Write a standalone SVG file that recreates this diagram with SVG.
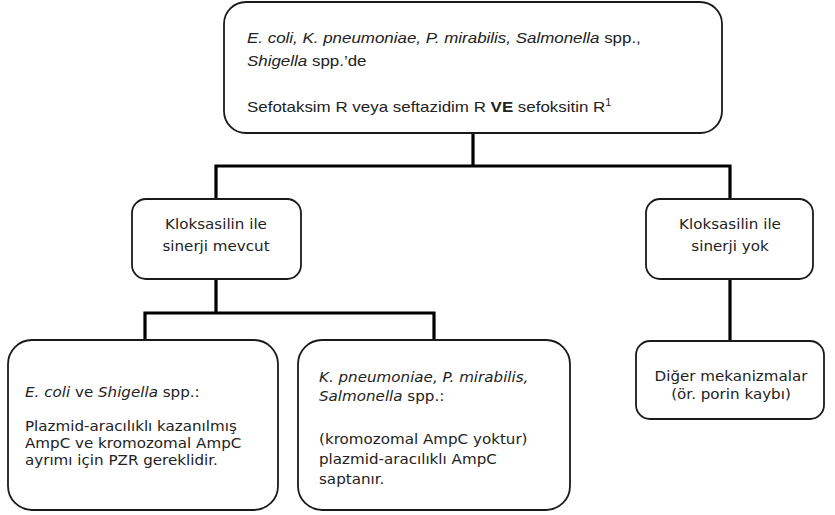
<svg xmlns="http://www.w3.org/2000/svg" width="835" height="515" viewBox="0 0 835 515">
<style>
.box{fill:#fff;stroke:#1a1a1a;stroke-width:1.8}
.con{fill:none;stroke:#000;stroke-width:3.2}
.t1{font-family:"Liberation Sans",Arial,sans-serif;font-size:15.4px;fill:#222}
.t2{font-family:"DejaVu Sans",Verdana,sans-serif;font-size:13.5px;fill:#222}
.c{text-anchor:middle}
.i{font-style:italic}
</style>
<rect width="835" height="515" fill="#fff"/>
<g id="connectors">
<path class="con" d="M473 133V166M216 199V166H730V199"/>
<path class="con" d="M216 279V313M145 340V313H434V340"/>
<path class="con" d="M730 279V341"/>
</g>
<g id="top">
<rect class="box" x="224" y="2" width="498" height="131" rx="22"/>
<text class="t1" transform="translate(247 43) scale(1.1 1)"><tspan class="i">E. coli, K. pneumoniae, P. mirabilis, Salmonella</tspan> spp.,</text>
<text class="t1" transform="translate(247 66) scale(1.1 1)"><tspan class="i">Shigella</tspan> spp.’de</text>
<text class="t1" transform="translate(247 112) scale(1.1 1)">Sefotaksim R veya seftazidim R <tspan font-weight="bold">VE</tspan> sefoksitin R<tspan font-size="10" dy="-6">1</tspan></text>
</g>
<g id="synergy-yes">
<rect class="box" x="132" y="199" width="169" height="80" rx="14"/>
<text class="t2 c" transform="translate(216 229) scale(1.12 1)">Kloksasilin ile</text>
<text class="t2 c" transform="translate(216 251) scale(1.12 1)">sinerji mevcut</text>
</g>
<g id="synergy-no">
<rect class="box" x="646" y="199" width="167" height="80" rx="14"/>
<text class="t2 c" transform="translate(730 229) scale(1.12 1)">Kloksasilin ile</text>
<text class="t2 c" transform="translate(730 251) scale(1.12 1)">sinerji yok</text>
</g>
<g id="ecoli">
<rect class="box" x="8" y="340" width="270" height="170" rx="24"/>
<text class="t2" transform="translate(25 397) scale(1.12 1)"><tspan class="i">E. coli</tspan> ve <tspan class="i">Shigella</tspan> spp.:</text>
<text class="t2" transform="translate(25 431) scale(1.12 1)">Plazmid-aracılıklı kazanılmış</text>
<text class="t2" transform="translate(25 448) scale(1.12 1)">AmpC ve kromozomal AmpC</text>
<text class="t2" transform="translate(25 465) scale(1.12 1)">ayrımı için PZR gereklidir.</text>
</g>
<g id="kpneumoniae">
<rect class="box" x="298" y="340" width="272" height="170" rx="24"/>
<text class="t2" transform="translate(319 382) scale(1.12 1)"><tspan class="i">K. pneumoniae, P. mirabilis,</tspan></text>
<text class="t2" transform="translate(319 401) scale(1.12 1)"><tspan class="i">Salmonella</tspan> spp.:</text>
<text class="t2" transform="translate(319 444) scale(1.12 1)">(kromozomal AmpC yoktur)</text>
<text class="t2" transform="translate(319 464) scale(1.12 1)">plazmid-aracılıklı AmpC</text>
<text class="t2" transform="translate(319 484) scale(1.12 1)">saptanır.</text>
</g>
<g id="other">
<rect class="box" x="636" y="341" width="188" height="78" rx="14"/>
<text class="t2 c" transform="translate(731 381) scale(1.12 1)">Diğer mekanizmalar</text>
<text class="t2 c" transform="translate(731 399) scale(1.12 1)">(ör. porin kaybı)</text>
</g>
</svg>
